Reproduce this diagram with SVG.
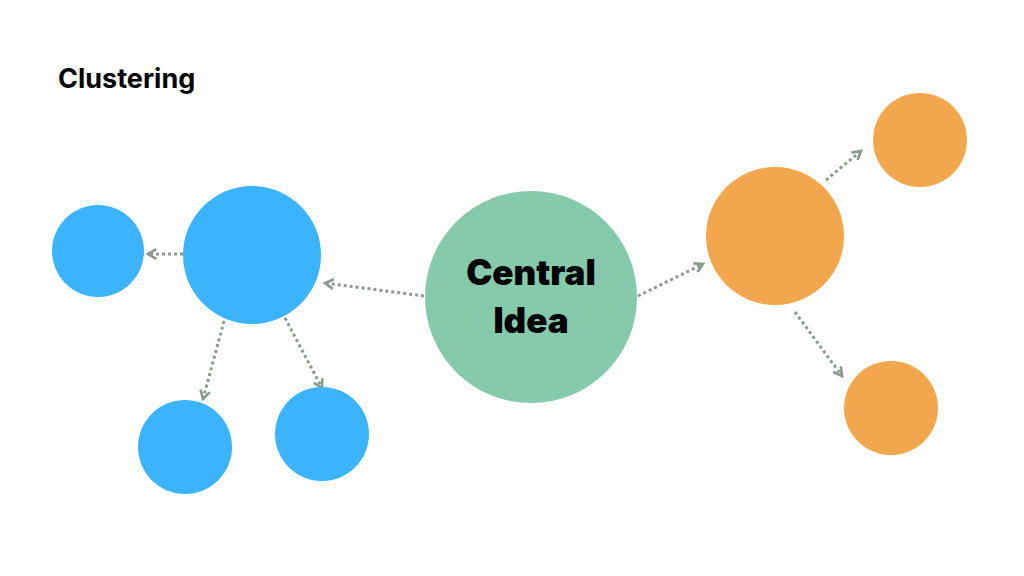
<svg xmlns="http://www.w3.org/2000/svg" width="1024" height="576" viewBox="0 0 1024 576">
<defs>
<marker id="ah" viewBox="0 0 10 10" refX="8" refY="5" markerWidth="4" markerHeight="4" orient="auto" markerUnits="strokeWidth">
<path d="M1,1 L8,5 L1,9" fill="none" stroke="#8a9a8c" stroke-width="2.2"/>
</marker>
<style>
.c{stroke:#8a9a8c;stroke-width:3;stroke-dasharray:3 3;fill:none;marker-end:url(#ah)}
.b{fill:#3bb4fd}.o{fill:#f2a74e}
</style>
</defs>
<rect width="1024" height="576" fill="#fff"/>
<text x="58" y="88" font-family="Inter, 'Liberation Sans', sans-serif" font-weight="700" font-size="27" fill="#000">Clustering</text>
<g id="connectors">
<line class="c" x1="424" y1="296" x2="325" y2="283"/>
<line class="c" x1="183" y1="254" x2="148" y2="254"/>
<line class="c" x1="224" y1="321" x2="203" y2="399"/>
<line class="c" x1="285" y1="318" x2="322" y2="388"/>
<line class="c" x1="638" y1="296" x2="703" y2="264"/>
<line class="c" x1="826" y1="180" x2="861" y2="151"/>
<line class="c" x1="795" y1="312" x2="842" y2="376"/>
</g>
<g id="central"><circle cx="531" cy="297" r="106" fill="#84caab"/>
<text x="531" y="285" text-anchor="middle" font-family="Inter, 'Liberation Sans', sans-serif" font-weight="900" font-size="35" fill="#000">Central</text>
<text x="531" y="333" text-anchor="middle" font-family="Inter, 'Liberation Sans', sans-serif" font-weight="900" font-size="35" fill="#000">Idea</text></g>
<g id="blue-main"><circle class="b" cx="252" cy="255" r="69"/></g>
<g id="blue-left"><circle class="b" cx="98" cy="251" r="46"/></g>
<g id="blue-bl"><circle class="b" cx="185" cy="447" r="47"/></g>
<g id="blue-br"><circle class="b" cx="322" cy="434" r="47"/></g>
<g id="orange-main"><circle class="o" cx="775" cy="236" r="69"/></g>
<g id="orange-top"><circle class="o" cx="920" cy="140" r="47"/></g>
<g id="orange-bottom"><circle class="o" cx="891" cy="408" r="47"/></g>
</svg>
